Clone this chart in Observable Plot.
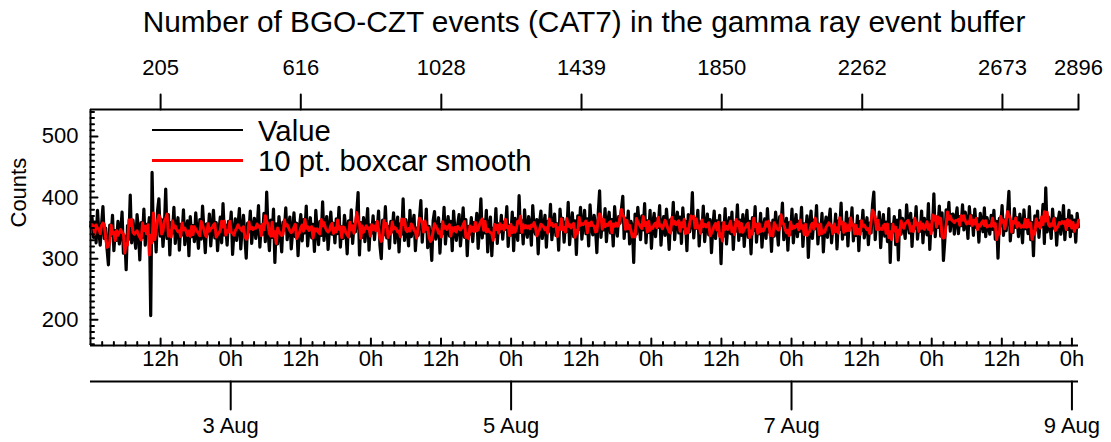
<!DOCTYPE html>
<html><head><meta charset="utf-8">
<script src="https://cdn.jsdelivr.net/npm/d3@7"></script>
<script src="https://cdn.jsdelivr.net/npm/@observablehq/plot@0.6"></script>
<style>
body{margin:0;background:#fff;}
#wrap{position:relative;width:1111px;height:442px;font-family:"Liberation Sans",Arial,Helvetica,sans-serif;color:#000;overflow:hidden;}
#title{position:absolute;left:90px;width:988px;top:0;height:44px;line-height:44px;text-align:center;font-size:29.8px;white-space:nowrap;}
#chart{position:absolute;left:0;top:44px;}
.lg-line{position:absolute;left:152px;width:91px;height:2.5px;}
.lg-text{position:absolute;left:258px;height:32px;line-height:32px;font-size:29.3px;white-space:nowrap;}
</style></head><body>
<div id="wrap">
  <div id="title"></div>
  <div id="chart"></div>
  <div id="legend"></div>
</div>
<script>
// ---- data (every 4th sample of the gamma-ray buffer counts, index 0..2896) ----
const titleText = "Number of BGO-CZT events (CAT7) in the gamma ray event buffer";
const yLabel = "Counts";
const seriesNames = ["Value", "10 pt. boxcar smooth"];
const seriesColors = ["#000000", "#ff0000"];
const topTickLabels = [205, 616, 1028, 1439, 1850, 2262, 2673, 2896];
const yMajorTicks = [200, 300, 400, 500];
const yDomain = [158, 544];
const sampleStride = 4;          // samples kept in counts[]
const sampleSeconds = 210.2;     // time between buffer samples
const firstSampleOffset = 109;   // seconds after 2 Aug 00:00
const counts = [
353,367,335,360,326,379,344,322,357,385,333,350,316,290,355,338,371,313,346,330,
361,324,343,376,309,337,282,354,332,404,326,363,340,317,372,348,298,359,335,381,
322,356,344,367,207,441,330,353,311,378,398,337,364,320,351,414,333,372,306,359,
342,384,325,351,367,314,356,339,380,323,347,362,305,369,336,354,328,375,343,317,
364,332,386,348,310,357,341,373,321,352,379,334,359,313,345,368,326,390,339,355,
322,361,347,376,307,343,365,330,354,382,316,349,371,337,301,358,344,378,325,352,
366,333,350,387,319,355,340,374,328,409,346,313,363,335,381,294,357,324,369,342,
311,360,347,383,331,353,368,316,344,375,336,358,305,351,372,329,364,342,386,321,
350,367,334,356,312,379,345,323,361,338,393,330,354,369,315,347,376,340,358,326,
365,341,384,319,352,333,371,348,308,362,337,380,325,356,344,374,408,306,359,335,
367,328,351,382,314,355,342,370,331,359,347,378,322,300,363,339,385,334,353,317,
361,344,375,326,352,368,311,357,340,398,330,364,348,321,379,336,355,371,313,350,
338,366,395,327,359,345,381,318,353,335,297,362,377,332,349,367,309,356,341,384,
324,351,369,337,361,313,378,345,330,356,372,321,348,383,335,364,305,353,340,367,
328,359,346,374,317,352,398,334,363,342,379,311,355,368,305,350,336,382,325,357,
344,371,332,360,348,385,320,354,339,376,313,366,351,330,403,343,362,324,380,347,
335,369,356,322,387,350,340,364,308,358,378,333,352,371,319,361,345,389,331,354,
373,338,357,314,381,349,366,327,360,344,392,323,353,375,336,362,307,370,348,384,
332,356,379,341,365,321,388,353,339,371,350,310,374,411,335,363,347,382,328,359,
376,342,364,321,385,353,337,369,358,381,402,333,366,345,378,324,361,352,294,373,
340,384,355,331,370,347,390,326,362,343,379,317,358,374,336,365,351,387,322,356,
369,338,381,353,315,364,347,392,331,360,376,342,368,325,383,349,361,313,372,344,
357,408,334,366,350,379,321,360,344,386,328,355,373,339,364,310,351,378,333,362,
346,371,292,358,337,382,324,353,367,341,376,315,359,345,388,330,363,338,372,320,
354,379,335,361,308,367,346,385,327,356,341,374,319,352,365,333,382,344,358,312,
363,337,376,350,322,369,355,391,331,347,366,314,359,340,381,326,353,372,336,361,
345,384,320,357,342,370,302,354,378,333,363,349,387,324,356,339,374,311,351,368,
335,360,381,326,353,344,373,316,362,348,391,332,357,340,376,321,365,352,383,329,
355,338,370,313,361,346,379,334,352,367,323,358,342,387,409,331,364,349,376,318,
353,372,337,360,328,382,294,356,344,369,323,363,298,379,340,366,351,333,388,358,
342,374,320,363,350,385,332,357,345,378,326,366,352,339,390,315,361,347,406,336,
368,351,386,337,375,297,329,380,357,392,345,372,373,340,364,383,341,369,354,388,
347,376,362,333,385,355,370,338,381,351,365,327,374,359,344,383,336,367,353,340,
371,348,379,332,361,301,366,354,387,338,363,346,375,410,329,358,343,382,351,367,
336,373,355,326,380,349,364,341,385,331,359,305,370,347,378,335,362,353,389,325,
416,344,368,357,333,381,350,366,322,361,376,340,355,387,331,364,348,379,336,370,
345,363,327,374,352
];

// ---- build table ----
const start = Date.UTC(2022, 7, 2);
const timeOfIndex = i => new Date(start + (firstSampleOffset + i * sampleSeconds) * 1000);
const rows = counts.map((v, k) => ({t: timeOfIndex(k * sampleStride), v}));
const xStart = new Date(start);
const xEnd = timeOfIndex((counts.length - 1) * sampleStride);
const yMin = yDomain[0], yMax = yDomain[1];

const topTicks = topTickLabels.map(i => ({t: timeOfIndex(i), label: String(i)}));
const hourTicks = d3.utcHour.every(12).range(new Date(start + 1), new Date(+xEnd + 1));
const minorHourTicks = d3.utcHour.every(2).range(new Date(start + 1), new Date(+xEnd + 1))
  .filter(d => d.getUTCHours() % 12 !== 0);
const dateTicks = d3.utcDay.every(2).range(new Date(start + 1), new Date(+xEnd + 1));
const yMinorTicks = d3.range(160, 541, 10).filter(v => !yMajorTicks.includes(v));
const fmtDate = d3.utcFormat("%-d %b");
const FS = 22;

const tick = (data, o) => Plot.vector(data, {stroke: "black", strokeWidth: 2, r: 0, anchor: "start", ...o});

const chart = Plot.plot({
  width: 1111, height: 398,
  marginLeft: 90, marginRight: 33, marginTop: 65, marginBottom: 97,
  style: {fontFamily: '"Liberation Sans", Arial, Helvetica, sans-serif', fontSize: FS + "px", color: "black", background: "transparent", overflow: "visible"},
  x: {type: "utc", domain: [xStart, xEnd], axis: null},
  y: {domain: yDomain, axis: null},
  marks: [
    Plot.lineY(rows, {x: "t", y: "v", stroke: seriesColors[0], strokeWidth: 3.2, strokeLinejoin: "round"}),
    Plot.lineY(rows, Plot.windowY({k: 3, reduce: "mean", anchor: "middle"}, {x: "t", y: "v", stroke: seriesColors[1], strokeWidth: 3})),
    // frame lines
    Plot.ruleX([xStart], {stroke: "black", strokeWidth: 2}),
    Plot.ruleY([yMin], {stroke: "black", strokeWidth: 2}),
    Plot.ruleY([yMax], {stroke: "black", strokeWidth: 2}),
    Plot.ruleY([yMin], {stroke: "black", strokeWidth: 2, dy: 36}),
    // y ticks (inward)
    tick(yMajorTicks, {x: () => xStart, y: d => d, length: 7, rotate: 90}),
    tick(yMinorTicks, {x: () => xStart, y: d => d, length: 3.5, rotate: 90}),
    Plot.text(yMajorTicks, {x: () => xStart, y: d => d, text: d => String(d), textAnchor: "end", dx: -12, fontSize: FS}),
    // bottom time ticks (inward)
    tick(hourTicks, {x: d => d, y: () => yMin, length: 7, rotate: 0}),
    tick(minorHourTicks, {x: d => d, y: () => yMin, length: 3.5, rotate: 0}),
    Plot.text(hourTicks, {x: d => d, y: () => yMin, text: d => d.getUTCHours() + "h", dy: 13, fontSize: FS}),
    // date axis
    tick(dateTicks, {x: d => d, y: () => yMin, length: 28, rotate: 180, dy: 36}),
    Plot.text(dateTicks, {x: d => d, y: () => yMin, text: fmtDate, dy: 80, fontSize: FS}),
    // top index axis
    tick(topTicks, {x: "t", y: () => yMax, length: 15, rotate: 0}),
    Plot.text(topTicks, {x: "t", y: () => yMax, text: "label", dy: -42, fontSize: FS}),
    // y label
    Plot.text([yLabel], {frameAnchor: "left", rotate: -90, dx: -72, fontSize: FS})
  ]
});
document.getElementById("chart").appendChild(chart);
document.getElementById("title").textContent = titleText;

const legend = document.getElementById("legend");
seriesNames.forEach((name, i) => {
  const line = document.createElement("div");
  line.className = "lg-line";
  line.style.top = (130 + i * 30.5 - 1.25) + "px";
  line.style.background = seriesColors[i];
  legend.appendChild(line);
  const txt = document.createElement("div");
  txt.className = "lg-text";
  txt.style.top = (115 + i * 30) + "px";
  txt.textContent = name;
  legend.appendChild(txt);
});
</script>
</body></html>
